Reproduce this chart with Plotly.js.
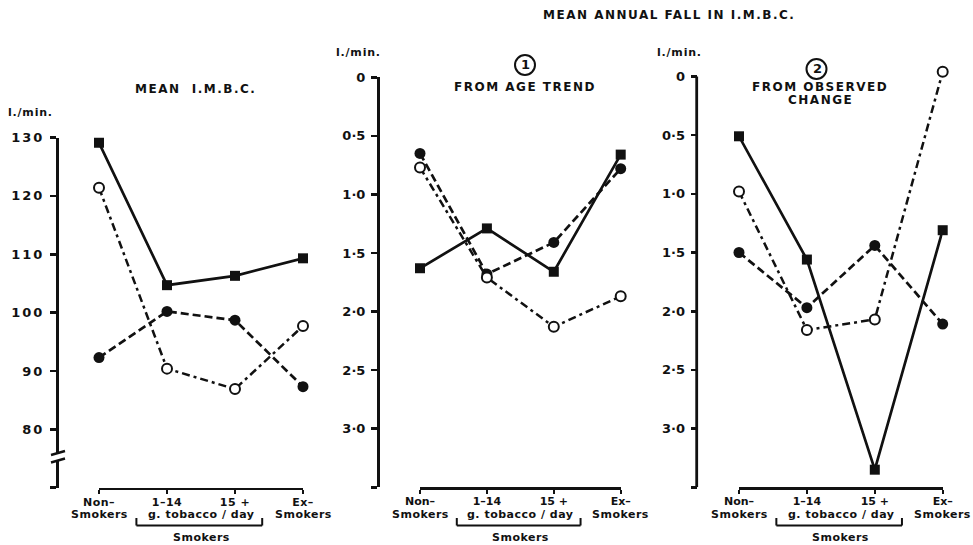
<!DOCTYPE html>
<html>
<head>
<meta charset="utf-8">
<script src="https://cdn.plot.ly/plotly-3.0.1.min.js"></script>
<style>
html,body{margin:0;padding:0;background:#fff;}
#chart{width:973px;height:545px;}
.ytick text{letter-spacing:2px;}
.xtick text{letter-spacing:0.5px;}
</style>
</head>
<body>
<div id="chart"></div>
<script>
// ---- data ----
const categories = ["Non–Smokers", "1–14", "15 +", "Ex–Smokers"];
const tickLine1 = ["Non–", "1–14", "15 +", "Ex–"];
const tickLine2 = ["Smokers", "", "", "Smokers"];
const groupLabel = "g. tobacco / day";
const groupTitle = "Smokers";

// Panel A: Mean I.M.B.C. (l./min.)
const meanSquares = [129.1, 104.7, 106.3, 109.3];
const meanOpen    = [121.4, 90.4, 86.9, 97.7];
const meanFilled  = [92.3, 100.2, 98.7, 87.3];

// Panel B: mean annual fall, (1) from age trend
const ageSquares = [1.63, 1.29, 1.66, 0.66];
const ageOpen    = [0.77, 1.71, 2.13, 1.87];
const ageFilled  = [0.65, 1.68, 1.41, 0.78];

// Panel C: mean annual fall, (2) from observed change
const obsSquares = [0.51, 1.56, 3.35, 1.31];
const obsOpen    = [0.98, 2.16, 2.07, -0.04];
const obsFilled  = [1.50, 1.97, 1.44, 2.11];

const meanTickVals = [70, 80, 90, 100, 110, 120, 130];
const meanTickText = ["", "80", "90", "100", "110", "120", "130"];
const fallTickVals = [0, 0.5, 1.0, 1.5, 2.0, 2.5, 3.0, 3.5];
const fallTickText = ["0", "0·5", "1·0", "1·5", "2·0", "2·5", "3·0", ""];

// ---- styling ----
const INK = "#111";
const FONT = "DejaVu Sans";
const W = 973, H = 545;
const px = v => v / W;
const py = v => 1 - v / H;

function series(x, y, xa, ya, kind) {
  const base = {x: x, y: y, xaxis: xa, yaxis: ya, mode: "lines+markers", type: "scatter",
                cliponaxis: false, showlegend: false, hoverinfo: "skip"};
  if (kind === "square") {
    base.line = {color: INK, width: 2.7, dash: "solid"};
    base.marker = {symbol: "square", size: 10, color: INK};
  } else if (kind === "filled") {
    base.line = {color: INK, width: 2.7, dash: "8px,4px"};
    base.marker = {symbol: "circle", size: 11, color: INK};
  } else {
    base.line = {color: INK, width: 2.5, dash: "8px,4px,3px,4px"};
    base.marker = {symbol: "circle", size: 10, color: "#fff", line: {color: INK, width: 2}};
  }
  return base;
}

const traces = [
  series(categories, meanFilled, "x", "y", "filled"),
  series(categories, meanOpen, "x", "y", "open"),
  series(categories, meanSquares, "x", "y", "square"),
  series(categories, ageFilled, "x2", "y2", "filled"),
  series(categories, ageOpen, "x2", "y2", "open"),
  series(categories, ageSquares, "x2", "y2", "square"),
  series(categories, obsFilled, "x3", "y3", "filled"),
  series(categories, obsOpen, "x3", "y3", "open"),
  series(categories, obsSquares, "x3", "y3", "square")
];

const tickFont = {family: FONT, size: 13, color: INK, weight: 700};
const xTickFont = {family: FONT, size: 11, color: INK, weight: 700};

function xAxis(d0, d1, ya) {
  return {domain: [px(d0), px(d1)], anchor: ya, type: "category", range: [0, 3],
          categoryarray: categories, categoryorder: "array",
          tickvals: categories, ticktext: tickLine1,
          showgrid: false, zeroline: false, showline: true, linecolor: INK, linewidth: 2.6,
          ticks: "outside", ticklen: 4, tickwidth: 2.4, tickcolor: INK,
          tickfont: xTickFont, ticklabelstandoff: -2, fixedrange: true};
}
function yAxis(top, bottom, xpos, range, vals, text, showline) {
  return {domain: [py(bottom), py(top)], anchor: "free", position: px(xpos), range: range,
          showgrid: false, zeroline: false, showline: showline, linecolor: INK, linewidth: 2.8,
          ticks: "outside", ticklen: 6, tickwidth: 2.6, tickcolor: INK,
          tickvals: vals, ticktext: text, tickfont: tickFont, ticklabelstandoff: 3,
          fixedrange: true};
}

const annFont = (s) => ({family: FONT, size: s, color: INK, weight: 700});
function ann(text, x, y, size, xref, extra) {
  return Object.assign({text: text, x: x, y: y, xref: xref || "paper", yref: "paper",
    showarrow: false, font: annFont(size), xanchor: "center", yanchor: "middle"}, extra || {});
}
const wide = t => '<span style="letter-spacing:1.5px">' + t + '</span>';
const tight = t => '<span style="letter-spacing:0.5px">' + t + '</span>';

const annotations = [
  ann(wide("MEAN ANNUAL FALL IN I.M.B.C."), px(669), py(15), 12),
  ann(wide("MEAN  I.M.B.C."), px(195), py(89), 12),
  ann('<span style="letter-spacing:0.8px">l./min.</span>', px(6), py(113), 11, "paper", {xanchor: "left"}),
  ann('<span style="letter-spacing:0.8px">l./min.</span>', px(334), py(52), 11, "paper", {xanchor: "left"}),
  ann('<span style="letter-spacing:0.8px">l./min.</span>', px(655), py(52), 11, "paper", {xanchor: "left"}),
  ann("1", px(525), py(65), 13),
  ann(wide("FROM AGE TREND"), px(525), py(87), 12),
  ann("2", px(817), py(69), 13),
  ann(wide("FROM OBSERVED"), px(820), py(87), 12),
  ann(wide("CHANGE"), px(820), py(100.5), 12)
];

const shapes = [];
const xrefs = ["x", "x2", "x3"];
xrefs.forEach(xr => {
  tickLine2.forEach((t, i) => {
    if (t) annotations.push(ann(tight(t), i, py(514.5), 11, xr));
  });
  annotations.push(ann(tight(groupLabel), 1.5, py(514.5), 11, xr));
  annotations.push(ann(tight(groupTitle), 1.5, py(537.5), 11, xr));
  const ln = {color: INK, width: 2};
  shapes.push({type: "line", xref: xr, yref: "paper", x0: 0.55, x1: 2.4, y0: py(525.5), y1: py(525.5), line: ln});
  shapes.push({type: "line", xref: xr, yref: "paper", x0: 0.55, x1: 0.55, y0: py(525.5), y1: py(518), line: ln});
  shapes.push({type: "line", xref: xr, yref: "paper", x0: 2.4, x1: 2.4, y0: py(525.5), y1: py(518), line: ln});
});

// right panel axis line from 0 to 3.5 (range extended so the top point stays visible)
shapes.push({type: "line", xref: "paper", yref: "y3", x0: px(696.7), x1: px(696.7), y0: 0, y1: 3.5,
             line: {color: INK, width: 2.8}});

// circled numbers
shapes.push({type: "circle", xref: "paper", yref: "paper", x0: px(515), x1: px(535), y0: py(75), y1: py(55), line: {color: INK, width: 2}});
shapes.push({type: "circle", xref: "paper", yref: "paper", x0: px(806.5), x1: px(826.5), y0: py(79), y1: py(59), line: {color: INK, width: 2}});

// axis break on left panel
shapes.push({type: "rect", xref: "paper", yref: "paper", x0: px(53), x1: px(61), y0: py(460), y1: py(453), fillcolor: "#fff", line: {width: 0}, layer: "above"});
shapes.push({type: "line", xref: "paper", yref: "paper", x0: px(51), x1: px(65), y0: py(455), y1: py(451), line: {color: INK, width: 2.4}, layer: "above"});
shapes.push({type: "line", xref: "paper", yref: "paper", x0: px(51), x1: px(65), y0: py(462.5), y1: py(458.5), line: {color: INK, width: 2.4}, layer: "above"});

const layout = {
  width: W, height: H,
  margin: {l: 0, r: 0, t: 0, b: 0},
  paper_bgcolor: "#fff", plot_bgcolor: "rgba(0,0,0,0)",
  showlegend: false,
  font: {family: FONT, color: INK},
  xaxis: xAxis(99, 303, "y"),
  yaxis: yAxis(137.5, 487.7, 57, [70, 130], meanTickVals, meanTickText, true),
  xaxis2: xAxis(420, 620.7, "y2"),
  yaxis2: yAxis(77.3, 487.3, 378, [3.5, 0], fallTickVals, fallTickText, true),
  xaxis3: xAxis(739, 942.7, "y3"),
  yaxis3: yAxis(68.2, 487.3, 696.7, [3.5, -0.07], fallTickVals, fallTickText, false),
  annotations: annotations,
  shapes: shapes
};

Plotly.newPlot("chart", traces, layout, {displayModeBar: false, staticPlot: true});
</script>
</body>
</html>
